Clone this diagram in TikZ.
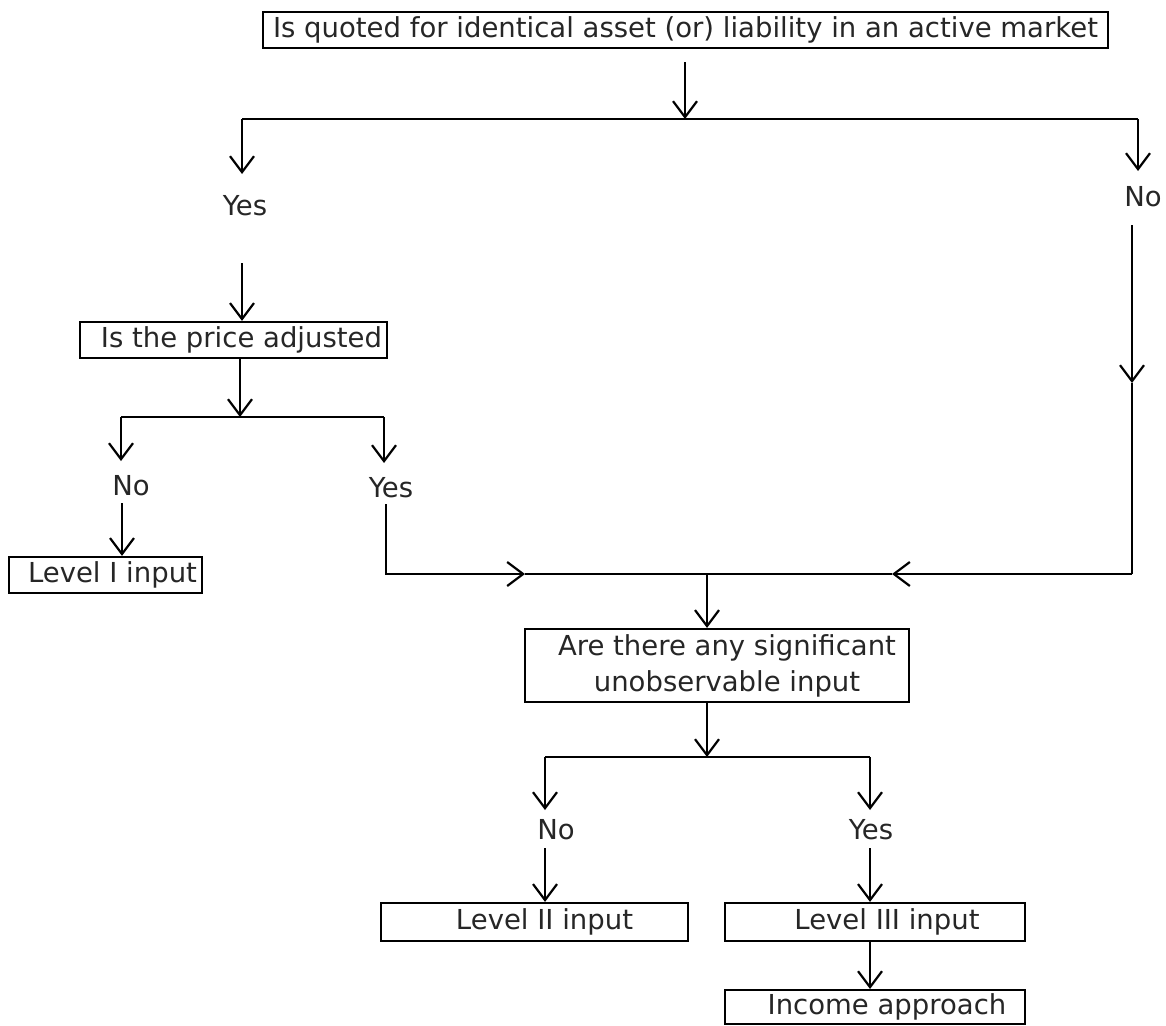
\documentclass[tikz,border=0pt]{standalone}
\usepackage{fontspec}
\setmainfont{DejaVu Sans}
\usetikzlibrary{arrows.meta}
\begin{document}
\begin{tikzpicture}[x=1pt,y=-1pt,
    fvBox/.style={draw,line width=2.2pt,inner sep=0pt,text=black!85,font=\fontsize{27.5}{36}\selectfont},
    fvLbl/.style={inner sep=1pt,text=black!85,font=\fontsize{27.5}{36}\selectfont},
    fvArr/.style={-{Straight Barb[length=16pt,width=24pt]},line width=2.2pt},
    fvLine/.style={line width=2.2pt},
]
\useasboundingbox (0,0) rectangle (1166,1025);
\clip (0,0) rectangle (1166,1025);
% top question
\node[fvBox,minimum width=845pt,minimum height=36pt] (quoted) at (685.5,30) {Is quoted for identical asset (or) liability in an active market};
\coordinate (qOut) at (685,62);
\coordinate (forkQ) at (685,119);
\coordinate (forkQL) at (242,119);
\coordinate (forkQR) at (1138,119);
\draw[fvArr] (qOut) -- (forkQ);
\draw[fvLine] (forkQL) -- (forkQR);
% yes branch
\coordinate (yes1In) at (242,174);
\coordinate (yes1Out) at (242,263);
\draw[fvArr] (forkQL) -- (yes1In);
\node[fvLbl] (yes1) at (245,206) {Yes};
\node[fvBox,minimum width=307pt,minimum height=36pt] (price) at (233.5,340) {\hspace*{16pt}Is the price adjusted};
\draw[fvArr] (yes1Out) -- (yes1Out |- price.north);
% no branch
\coordinate (no1In) at (1138,171);
\coordinate (no1Out) at (1132,225);
\coordinate (no1Mid) at (1132,383);
\coordinate (joinR) at (1132,574);
\draw[fvArr] (forkQR) -- (no1In);
\node[fvLbl] (no1) at (1143,197) {No};
\draw[fvArr] (no1Out) -- (no1Mid);
\draw[fvLine] (no1Mid) -- (joinR);
% price adjusted?
\coordinate (forkP) at (240,417);
\coordinate (forkPL) at (121,417);
\coordinate (forkPR) at (384,417);
\draw[fvArr] (price.south -| forkP) -- (forkP);
\draw[fvLine] (forkPL) -- (forkPR);
\coordinate (no2In) at (121,461);
\coordinate (no2Out) at (122,503);
\draw[fvArr] (forkPL) -- (no2In);
\node[fvLbl] (no2) at (131,486) {No};
\node[fvBox,minimum width=193pt,minimum height=36pt] (lvlOne) at (105.5,575) {\hspace*{14pt}Level I input};
\draw[fvArr] (no2Out) -- (no2Out |- lvlOne.north);
\coordinate (yes2In) at (384,463);
\coordinate (yes2Out) at (386,504);
\draw[fvArr] (forkPR) -- (yes2In);
\node[fvLbl] (yes2) at (391,488) {Yes};
% merge
\coordinate (joinL) at (386,574);
\coordinate (joinLArr) at (525,574);
\coordinate (joinRArr) at (892,574);
\coordinate (join) at (707,574);
\draw[fvArr] (yes2Out) -- (joinL) -- (joinLArr);
\draw[fvLine] (joinLArr) -- (join);
\draw[fvArr] (joinR) -- (joinRArr);
\draw[fvLine] (joinRArr) -- (join);
\node[fvBox,minimum width=384pt,minimum height=73pt,align=center] (signif) at (717,665.5) {\hspace*{20pt}Are there any significant\\\hspace*{20pt}unobservable input};
\draw[fvArr] (join) -- (join |- signif.north);
% significant input?
\coordinate (forkS) at (707,757);
\coordinate (forkSL) at (545,757);
\coordinate (forkSR) at (870,757);
\draw[fvArr] (signif.south -| forkS) -- (forkS);
\draw[fvLine] (forkSL) -- (forkSR);
\coordinate (no3In) at (545,810);
\coordinate (no3Out) at (545,848);
\draw[fvArr] (forkSL) -- (no3In);
\node[fvLbl] (no3) at (556,830) {No};
\node[fvBox,minimum width=307pt,minimum height=38pt] (lvlTwo) at (534.5,922) {\hspace*{20pt}Level II input};
\draw[fvArr] (no3Out) -- (no3Out |- lvlTwo.north);
\coordinate (yes3In) at (870,810);
\coordinate (yes3Out) at (870,848);
\draw[fvArr] (forkSR) -- (yes3In);
\node[fvLbl] (yes3) at (871,830) {Yes};
\node[fvBox,minimum width=300pt,minimum height=38pt] (lvlThree) at (875,922) {\hspace*{24pt}Level III input};
\draw[fvArr] (yes3Out) -- (yes3Out |- lvlThree.north);
\node[fvBox,minimum width=300pt,minimum height=34pt,anchor=north] (income) at (875,989) {\hspace*{24pt}Income approach};
\draw[fvArr] (lvlThree.south -| yes3Out) -- (income.north -| yes3Out);
\end{tikzpicture}
\end{document}
